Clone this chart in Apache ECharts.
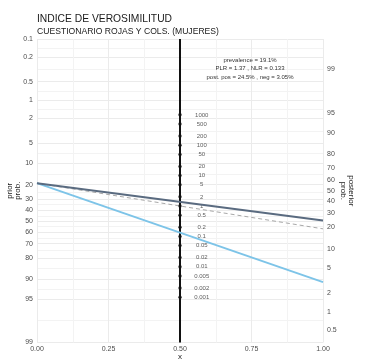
<!DOCTYPE html>
<html><head><meta charset="utf-8">
<script src="https://cdn.jsdelivr.net/npm/echarts@6/dist/echarts.min.js"></script>
<style>html,body{margin:0;padding:0;background:#fff}#c{width:368px;height:360px}</style>
</head><body><div id="c"></div>
<script>
// ---- data ----
const priorTicks = [0.1, 0.2, 0.5, 1, 2, 5, 10, 20, 30, 40, 50, 60, 70, 80, 90, 95, 99];
const postTicks = [0.5, 1, 2, 5, 10, 20, 30, 40, 50, 60, 70, 80, 90, 95, 99];
const lrTicks = [1000, 500, 200, 100, 50, 20, 10, 5, 2, 1, 0.5, 0.2, 0.1, 0.05, 0.02, 0.01, 0.005, 0.002, 0.001];
const prevalence = 19.1;   // %
const PLR = 1.37;
const NLR = 0.133;
const postPos = 24.5;      // %
const postNeg = 3.05;      // %
const titleText = 'INDICE DE VEROSIMILITUD';
const subtitleText = 'CUESTIONARIO ROJAS Y COLS. (MUJERES)';

// ---- scales ----
const logit = p => Math.log(p / (1 - p));
const vMin = -logit(priorTicks[priorTicks.length - 1] / 100);
const vMax = -logit(priorTicks[0] / 100);
const off = (vMin + vMax) / 2;
const leftPos = priorTicks.map(p => -logit(p / 100));
const rightPos = postTicks.map(p => logit(p / 100) + off);
const lrPos = lrTicks.map(l => Math.log(l) / 2 + off / 2);
const minorPos = [];
for (let i = 0; i < leftPos.length - 1; i++) minorPos.push((leftPos[i] + leftPos[i + 1]) / 2);

const lookup = (vals, labels) => v => {
  for (let i = 0; i < vals.length; i++) if (Math.abs(vals[i] - v) < 1e-6) return String(labels[i]);
  return '';
};

const y0 = -logit(prevalence / 100);
const yPos = logit(prevalence / 100) + Math.log(PLR) + off;
const yNeg = logit(prevalence / 100) + Math.log(NLR) + off;
const yRef = logit(prevalence / 100) + off;

const FONT = 'Liberation Sans, Arial, sans-serif';
const gridCol = '#ebebeb';
const chart = echarts.init(document.getElementById('c'), null, {renderer: 'canvas'});
const baseY = {
  type: 'value', min: vMin, max: vMax,
  axisLine: {show: false}, axisTick: {show: false}
};
chart.setOption({
  animation: false,
  backgroundColor: '#fff',
  textStyle: {fontFamily: FONT},
  title: {
    text: titleText, subtext: subtitleText, left: 32, top: 9, itemGap: 3,
    textStyle: {fontFamily: FONT, fontSize: 10.3, fontWeight: 'normal', color: '#1a1a1a'},
    subtextStyle: {fontFamily: FONT, fontSize: 8.6, color: '#1a1a1a'}
  },
  grid: {left: 37, right: 45, top: 39, bottom: 17.5, containLabel: false, outerBoundsMode: 'none'},
  xAxis: {
    type: 'value', min: 0, max: 1, interval: 0.25,
    name: 'x', nameLocation: 'middle', nameGap: 10, nameMoveOverlap: false,
    nameTextStyle: {fontFamily: FONT, fontSize: 8, color: '#1a1a1a'},
    axisLine: {show: false}, axisTick: {show: false},
    axisLabel: {fontSize: 7, color: '#4d4d4d', margin: 3, formatter: v => v.toFixed(2)},
    splitLine: {show: true, lineStyle: {color: gridCol, width: 1}},
    minorTick: {show: false, splitNumber: 2},
    minorSplitLine: {show: true, lineStyle: {color: '#f3f3f3', width: 1}}
  },
  yAxis: [
    Object.assign({}, baseY, {
      position: 'left',
      name: 'prior\nprob.', nameLocation: 'middle', nameGap: 15, nameRotate: 90, nameMoveOverlap: false,
      nameTextStyle: {fontFamily: FONT, fontSize: 8, color: '#1a1a1a', lineHeight: 8},
      axisTick: {show: false, customValues: leftPos},
      axisLabel: {customValues: leftPos, fontSize: 7, color: '#4d4d4d', margin: 4,
        formatter: lookup(leftPos, priorTicks)},
      splitLine: {show: true, lineStyle: {color: gridCol, width: 1}}
    }),
    Object.assign({}, baseY, {
      position: 'right',
      name: 'posterior\nprob.', nameLocation: 'middle', nameGap: 16, nameRotate: -90, nameMoveOverlap: false,
      nameTextStyle: {fontFamily: FONT, fontSize: 8, color: '#1a1a1a', lineHeight: 8},
      axisTick: {show: false, customValues: rightPos},
      axisLabel: {customValues: rightPos, fontSize: 7, color: '#4d4d4d', margin: 4,
        formatter: lookup(rightPos, postTicks)},
      splitLine: {show: false}
    }),
    Object.assign({}, baseY, {
      position: 'left', offset: 0,
      axisTick: {show: false, customValues: minorPos},
      axisLabel: {show: false},
      splitLine: {show: true, lineStyle: {color: '#f3f3f3', width: 1}}
    })
  ],
  series: [
    {
      type: 'line', yAxisIndex: 0, silent: true, symbol: 'none',
      data: [[0.5, vMin], [0.5, vMax]],
      lineStyle: {color: '#111', width: 2}, z: 3
    },
    {
      type: 'scatter', yAxisIndex: 0, silent: true, symbol: 'circle', symbolSize: 3.5,
      itemStyle: {color: '#111'}, z: 4,
      data: lrPos.map((v, i) => ({value: [0.5, v], name: String(lrTicks[i])})),
      label: {show: true, position: 'right', distance: 20, align: 'center',
        formatter: p => p.name, fontSize: 6, color: '#333', fontFamily: FONT}
    },
    {
      type: 'line', yAxisIndex: 0, silent: true, symbol: 'none', z: 2,
      data: [[0, y0], [1, yRef]],
      lineStyle: {color: '#a8a8a8', width: 1, type: [4, 3]}
    },
    {
      type: 'line', yAxisIndex: 0, silent: true, symbol: 'none', z: 5,
      data: [[0, y0], [1, yNeg]],
      lineStyle: {color: '#7dc4e8', width: 2}
    },
    {
      type: 'line', yAxisIndex: 0, silent: true, symbol: 'none', z: 5,
      data: [[0, y0], [1, yPos]],
      lineStyle: {color: '#5a6b80', width: 2}
    }
  ],
  graphic: [{
    type: 'text', x: 250, y: 56, z: 10,
    style: {
      text: 'prevalence = ' + prevalence + '%\nPLR = ' + PLR + ' , NLR = ' + NLR +
            '\npost. pos = ' + postPos + '% , neg = ' + postNeg + '%',
      align: 'center', verticalAlign: 'top', fontSize: 6, lineHeight: 8.5, fill: '#333', fontFamily: FONT
    }
  }]
});
</script></body></html>
